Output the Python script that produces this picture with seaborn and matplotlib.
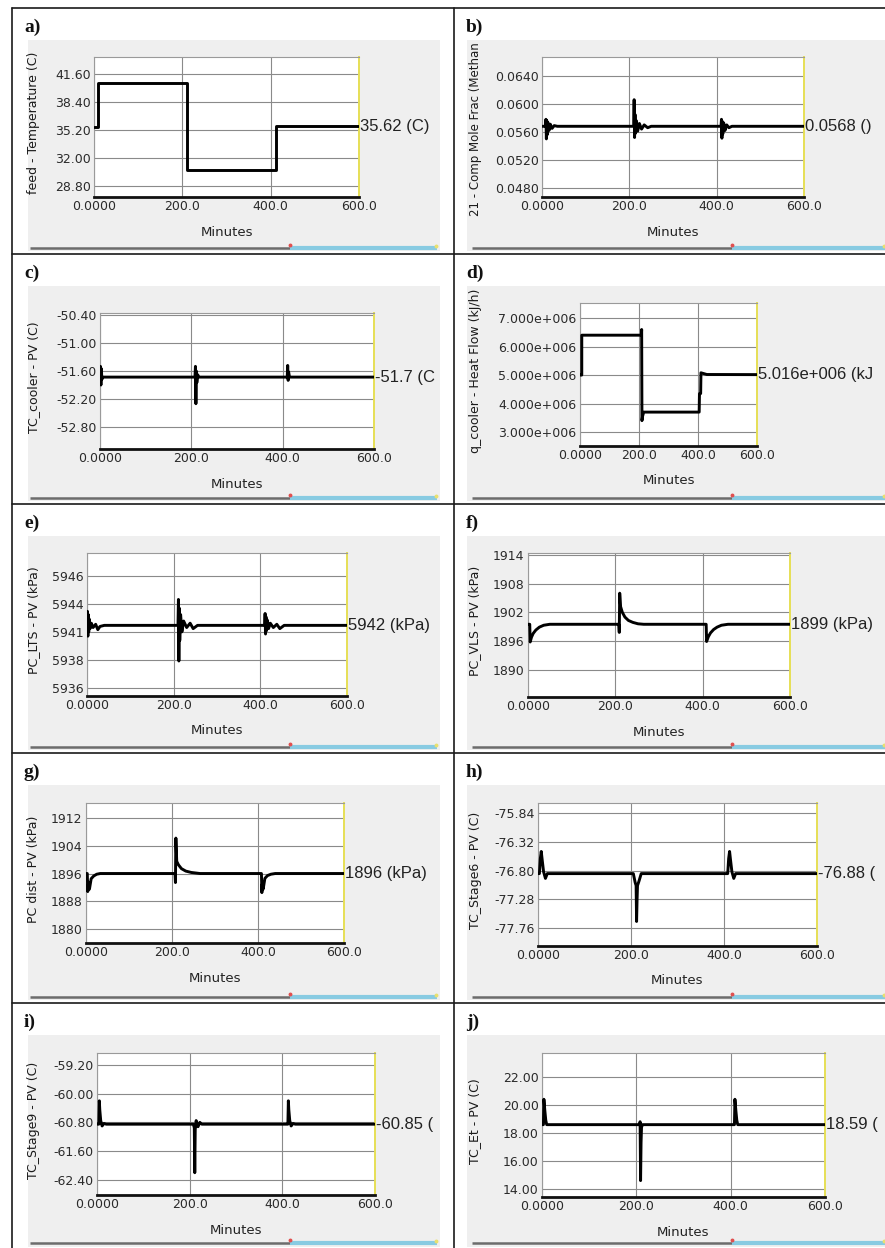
import matplotlib
matplotlib.use("Agg")
import matplotlib.pyplot as plt
import seaborn as sns
import pandas as pd
from matplotlib.patches import Rectangle
from matplotlib.transforms import Bbox, TransformedBbox

# ---------------- data ----------------
x_ticks = [0, 200, 400, 600]
x_ticklabels = ["0.0000", "200.0", "400.0", "600.0"]

a_time = [0, 9, 9, 210, 210, 412, 412, 600]
a_value = [35.55, 35.55, 40.6, 40.6, 30.6, 30.6, 35.62, 35.62]
a_yticks = [41.6, 38.4, 35.2, 32.0, 28.8]
a_yticklabels = ["41.60", "38.40", "35.20", "32.00", "28.80"]

b_time = [0, 8, 9, 10, 11, 12, 14, 16, 19, 23, 28, 35,
          210, 211, 212, 213, 214, 216, 219, 223, 228, 234, 242, 250,
          410, 411, 412, 413, 414, 416, 419, 423, 428, 435, 600]
b_value = [0.0568, 0.0568, 0.0578, 0.0550, 0.0576, 0.0556, 0.0573, 0.0562, 0.0571, 0.0565, 0.0569, 0.0568,
           0.0568, 0.0606, 0.0552, 0.0585, 0.0558, 0.0576, 0.0561, 0.0572, 0.0564, 0.0570, 0.0566, 0.0568,
           0.0568, 0.0578, 0.0551, 0.0575, 0.0557, 0.0573, 0.0562, 0.0570, 0.0566, 0.0568, 0.0568]
b_yticks = [0.064, 0.060, 0.056, 0.052, 0.048]
b_yticklabels = ["0.0640", "0.0600", "0.0560", "0.0520", "0.0480"]

c_time = [0, 1, 2, 3, 4, 6, 208, 209, 210, 211, 212, 214, 216, 410, 411, 412, 413, 415, 600]
c_value = [-51.73, -51.50, -51.90, -51.55, -51.78, -51.73,
           -51.73, -51.50, -52.30, -51.60, -51.85, -51.68, -51.73,
           -51.73, -51.48, -51.80, -51.62, -51.73, -51.73]
c_yticks = [-50.4, -51.0, -51.6, -52.2, -52.8]
c_yticklabels = ["-50.40", "-51.00", "-51.60", "-52.20", "-52.80"]

d_time = [0, 6, 6, 208, 209, 210, 212, 216, 404, 405, 409, 410, 430, 600]
d_value = [5.0e6, 5.0e6, 6.4e6, 6.4e6, 6.6e6, 3.4e6, 3.55e6, 3.7e6, 3.7e6, 4.35e6, 4.35e6, 5.08e6, 5.02e6, 5.016e6]
d_yticks = [7e6, 6e6, 5e6, 4e6, 3e6]
d_yticklabels = ["7.000e+006", "6.000e+006", "5.000e+006", "4.000e+006", "3.000e+006"]

e_time = [0, 1, 2, 3, 4, 5, 7, 10, 14, 20, 25, 30, 40,
          210, 211, 212, 213, 214, 216, 219, 223, 230, 238, 245, 255,
          410, 411, 412, 413, 414, 416, 419, 423, 430, 438, 445, 455, 600]
e_value = [5941.6, 5942.9, 5940.6, 5942.6, 5941.0, 5942.2, 5941.3, 5941.8, 5941.4, 5941.7, 5941.2, 5941.5, 5941.6,
           5941.6, 5944.0, 5938.3, 5943.2, 5940.2, 5942.6, 5941.0, 5942.0, 5941.4, 5941.8, 5941.3, 5941.6,
           5941.6, 5942.7, 5940.8, 5942.4, 5941.1, 5942.1, 5941.3, 5941.8, 5941.4, 5941.7, 5941.3, 5941.6, 5941.6]
e_yticks = [5946.2, 5943.6, 5941.0, 5938.4, 5935.8]
e_yticklabels = ["5946", "5944", "5941", "5938", "5936"]

f_time = [0, 4, 5, 8, 12, 18, 26, 36, 50,
          208, 209, 210, 212, 216, 222, 230, 240, 252, 265,
          408, 409, 413, 418, 425, 433, 443, 458, 600]
f_value = [1899.5, 1899.5, 1895.8, 1896.8, 1897.6, 1898.3, 1898.9, 1899.3, 1899.5,
           1899.5, 1897.8, 1906.0, 1903.2, 1902.0, 1901.0, 1900.3, 1899.9, 1899.6, 1899.5,
           1899.5, 1895.9, 1896.9, 1897.7, 1898.4, 1898.9, 1899.3, 1899.5, 1899.5]
f_yticks = [1914, 1908, 1902, 1896, 1890]
f_yticklabels = ["1914", "1908", "1902", "1896", "1890"]

g_time = [0, 3, 4, 6, 8, 12, 18, 25, 33,
          207, 208, 209, 211, 215, 222, 232, 245, 265,
          408, 409, 410, 412, 416, 422, 430, 440, 600]
g_value = [1896, 1896, 1890.8, 1893.5, 1891.5, 1894.5, 1895.3, 1895.8, 1896,
           1896, 1893.4, 1906.2, 1899.5, 1898.5, 1897.4, 1896.7, 1896.3, 1896,
           1896, 1890.5, 1893.0, 1891.5, 1894.6, 1895.4, 1895.8, 1896, 1896]
g_yticks = [1912, 1904, 1896, 1888, 1880]
g_yticklabels = ["1912", "1904", "1896", "1888", "1880"]

h_time = [0, 3, 5, 7, 9, 12, 16, 20,
          205, 209, 211, 212, 213, 214, 217, 222,
          405, 408, 410, 412, 414, 417, 421, 425, 600]
h_value = [-76.85, -76.85, -76.60, -76.48, -76.62, -76.82, -76.93, -76.85,
           -76.85, -77.0, -77.05, -77.65, -77.3, -77.05, -76.98, -76.85,
           -76.85, -76.85, -76.60, -76.48, -76.62, -76.82, -76.93, -76.85, -76.85]
h_yticks = [-75.84, -76.32, -76.80, -77.28, -77.76]
h_yticklabels = ["-75.84", "-76.32", "-76.80", "-77.28", "-77.76"]

i_time = [0, 4, 5, 6, 8, 11, 15, 20,
          208, 210, 211, 212, 214, 218, 222, 226,
          408, 412, 413, 414, 416, 419, 423, 428, 600]
i_value = [-60.85, -60.85, -60.20, -60.45, -60.75, -60.90, -60.83, -60.85,
           -60.85, -60.95, -62.20, -61.0, -60.75, -60.92, -60.80, -60.85,
           -60.85, -60.85, -60.20, -60.45, -60.75, -60.90, -60.83, -60.85, -60.85]
i_yticks = [-59.2, -60.0, -60.8, -61.6, -62.4]
i_yticklabels = ["-59.20", "-60.00", "-60.80", "-61.60", "-62.40"]

j_time = [0, 3, 4, 6, 8, 10,
          207, 208, 209, 210, 211, 213,
          407, 408, 409, 411, 413, 415, 600]
j_value = [18.59, 18.59, 20.4, 19.6, 18.9, 18.59,
           18.59, 18.8, 14.6, 17.3, 18.4, 18.59,
           18.59, 18.59, 20.4, 19.6, 18.9, 18.59, 18.59]
j_yticks = [22, 20, 18, 16, 14]
j_yticklabels = ["22.00", "20.00", "18.00", "16.00", "14.00"]

labels = ["a)", "b)", "c)", "d)", "e)", "f)", "g)", "h)", "i)", "j)"]
ylabels = ["feed - Temperature (C)", "21 - Comp Mole Frac (Methan",
           "TC_cooler - PV (C)", "q_cooler - Heat Flow (kJ/h)",
           "PC_LTS - PV (kPa)", "PC_VLS - PV (kPa)",
           "PC dist - PV (kPa)", "TC_Stage6 - PV (C)",
           "TC_Stage9 - PV (C)", "TC_Et - PV (C)"]
value_texts = ["35.62 (C)", "0.0568 ()", "-51.7 (C", "5.016e+006 (kJ",
               "5942 (kPa)", "1899 (kPa)", "1896 (kPa)", "-76.88 (",
               "-60.85 (", "18.59 ("]

series = [(a_time, a_value, a_yticks, a_yticklabels),
          (b_time, b_value, b_yticks, b_yticklabels),
          (c_time, c_value, c_yticks, c_yticklabels),
          (d_time, d_value, d_yticks, d_yticklabels),
          (e_time, e_value, e_yticks, e_yticklabels),
          (f_time, f_value, f_yticks, f_yticklabels),
          (g_time, g_value, g_yticks, g_yticklabels),
          (h_time, h_value, h_yticks, h_yticklabels),
          (i_time, i_value, i_yticks, i_yticklabels),
          (j_time, j_value, j_yticks, j_yticklabels)]

# ---------------- layout (pixels) ----------------
W, H = 885, 1248
axes_px = [(94, 57, 359, 197), (542, 57, 804, 197),
           (100, 313, 374, 449), (580, 303, 757, 446),
           (87, 553, 347, 696), (528, 553, 790, 697),
           (86, 803, 344, 943), (538, 803, 817, 946),
           (97, 1053, 375, 1195), (542, 1053, 825, 1197)]
ylims = [(27.54, 43.54), (0.0467, 0.0667), (-53.27, -50.357), (2.51e6, 7.53e6),
         (5935.06, 5948.3), (1884.3, 1914.4), (1876.0, 1916.3), (-78.06, -75.67),
         (-62.82, -58.87), (13.43, 23.7)]

sns.set_style("white")
plt.rcParams['font.family'] = ['DejaVu Sans']

fig = plt.figure(figsize=(W / 100, H / 100), dpi=100)
bg = fig.add_axes([0, 0, 1, 1])
bg.set_xlim(0, W)
bg.set_ylim(H, 0)
bg.axis('off')
bg.set_zorder(0)

row_tops = [8, 254, 504, 753, 1003]
row_bots = [254, 504, 753, 1003, 1250]
gray_x = [(28, 440), (467, 885)]
scroll_x = [(30, 290, 437), (472, 732, 885)]
label_x = [24, 466]
ylabel_x = [34, 475]

for r in range(5):
    T, B = row_tops[r], row_bots[r]
    for c in range(2):
        gx0, gx1 = gray_x[c]
        bg.add_patch(Rectangle((gx0, T + 32), gx1 - gx0, B - T - 35,
                               facecolor='#efefef', edgecolor='none', zorder=0))
        sx0, sx1, sx2 = scroll_x[c]
        sy = B - 6 if r < 4 else 1243
        bg.plot([sx0, sx1], [sy, sy], color='#6c6c6c', lw=1.8, solid_capstyle='butt', zorder=1)
        bg.plot([sx1, sx2], [sy, sy], color='#88cbe2', lw=3.0, solid_capstyle='butt', zorder=1)
        bg.plot([sx1], [sy - 3], marker='o', color='#e05050', ms=1.8, zorder=2)
        bg.plot([sx2 - 1], [sy - 2], marker='o', color='#e8e070', ms=1.8, zorder=2)
        bg.text(label_x[c], T + 19, labels[2 * r + c], fontsize=14, fontweight='bold',
                family='Liberation Serif', va='center', ha='left', color='#111111', zorder=3)

for y in row_tops:
    bg.plot([12, W], [y, y], color='#1a1a1a', lw=1.2, zorder=3)
bg.plot([12, 12], [8, H], color='#1a1a1a', lw=1.2, zorder=3)
bg.plot([454, 454], [8, H], color='#1a1a1a', lw=1.2, zorder=3)

for k in range(10):
    x0, y0, x1, y1 = axes_px[k]
    col = k % 2
    ax = fig.add_axes([x0 / W, 1 - y1 / H, (x1 - x0) / W, (y1 - y0) / H])
    ax.set_zorder(2)
    ax.set_facecolor('white')
    t, v, yt, ytl = series[k]
    df = pd.DataFrame({"Minutes": t, "Value": v})
    sns.lineplot(data=df, x="Minutes", y="Value", ax=ax, estimator=None, sort=False,
                 color='black', lw=2.1, zorder=4)
    ax.set_xlim(0, 600)
    ax.set_ylim(*ylims[k])
    ax.set_xticks(x_ticks)
    ax.set_xticklabels(x_ticklabels)
    ax.set_yticks(yt)
    ax.set_yticklabels(ytl)
    ax.grid(True, color='#8a8a8a', lw=0.8)
    ax.set_axisbelow(True)
    ax.tick_params(length=0, pad=2.5, labelsize=9, colors='#2a2a2a')
    ax.set_xlabel("")
    ax.set_ylabel("")
    ax.spines['left'].set_color('#9a9a9a')
    ax.spines['left'].set_linewidth(0.8)
    ax.spines['top'].set_color('#9a9a9a')
    ax.spines['top'].set_linewidth(0.8)
    ax.spines['right'].set_color('#e6df55')
    ax.spines['right'].set_linewidth(1.4)
    ax.spines['bottom'].set_color('#111111')
    ax.spines['bottom'].set_linewidth(2.0)
    for s in ax.spines.values():
        s.set_visible(True)

    # value read-out
    txt = ax.text(1.005, v[-1], value_texts[k], transform=ax.get_yaxis_transform(),
                  ha='left', va='center', fontsize=12, family='Liberation Sans',
                  color='#222222', clip_on=True)
    txt.set_clip_path(None)
    gx0, gx1 = gray_x[col]
    txt.set_clip_box(TransformedBbox(Bbox.from_extents(gx0 / W, 0, gx1 / W, 1), fig.transFigure))

    # axis titles
    bg.text((x0 + x1) / 2, y1 + 35, "Minutes", fontsize=9.5, ha='center', va='center',
            color='#222222', zorder=3)
    yl_fs = 8.5 if k == 1 else 9
    yl_y = (y0 + y1) / 2 + (2 if k == 1 else -4)
    bg.text(ylabel_x[col], yl_y, ylabels[k], fontsize=yl_fs, rotation=90,
            ha='center', va='center', color='#1a1a1a', zorder=3)

fig.savefig("out.png", dpi=100)
